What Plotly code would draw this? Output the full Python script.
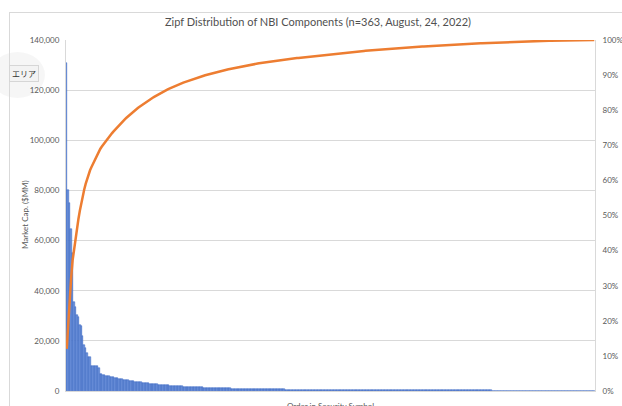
import plotly.graph_objects as go

# Market capitalisation ($MM) of the NBI components, largest first
market_cap = [
    131000, 80000, 75000, 64600, 55000, 35600, 33500, 30300, 29500, 26300,
    26000, 21900, 18400, 17200, 15300, 13700, 13500, 10100, 10100, 10050,
    10000, 10000, 9200, 6900, 6700,
    6500, 6300, 6100, 5900, 5800, 5700, 5500, 5400, 5300, 5150,
    5000, 4900, 4800, 4700, 4550, 4450, 4300, 4200, 4100, 4000,
    3900, 3800, 3720, 3650, 3560, 3480, 3400, 3320, 3250, 3180,
    3100, 3030, 2960, 2890, 2830, 2770, 2700, 2640, 2580, 2520,
    2470, 2410, 2360, 2300, 2250, 2200, 2150, 2100, 2060, 2010,
    1960, 1920, 1880, 1850, 1810, 1780, 1740, 1710, 1680, 1650,
    1620, 1590, 1560, 1530, 1500, 1480, 1450, 1420, 1400, 1370,
    1350, 1320, 1300, 1280,
    1250, 1230, 1210, 1190, 1170, 1150, 1130, 1110, 1090, 1070,
    1060, 1040, 1020, 1010, 995, 980, 965, 950, 940, 925,
    915, 905, 895, 885, 875, 865, 855, 845, 835, 825,
    815, 805, 800,
    700, 695, 690, 684, 678, 672, 666, 660, 654, 648,
    642, 636, 630, 625, 620, 615, 610, 605, 600, 595,
    590, 585, 580, 575, 570, 566, 562, 558, 554, 550,
    546, 542, 538, 534, 530, 526, 522, 518, 514, 510,
    507, 504, 501, 498, 495, 492, 489, 486, 483, 480,
    477,
    474, 471, 468, 465, 462, 459, 456, 453, 450, 447,
    444, 441, 438, 435, 432, 429, 426, 423, 420, 417,
    414, 411, 408, 405, 402, 399, 396, 393, 390,
    386, 383, 380, 377, 374, 371, 368, 365, 362, 359,
    356, 353, 350, 347, 344, 341, 338, 335, 332, 330,
    328, 326, 324, 322, 320, 318, 316, 314,
    311, 308, 305, 302, 299, 296, 293, 290, 287, 284,
    281, 278, 275, 272, 269, 267, 265, 263, 261, 259,
    257, 255, 253, 251, 249, 247, 245, 244, 243, 242,
    241, 240, 239, 238, 237, 236, 235, 235, 234, 234,
    234,
    233, 230, 227, 224, 221, 218, 215, 212, 209, 206,
    203, 200, 198, 196, 194, 192, 190, 188, 186, 184,
    182, 180, 178, 176, 174, 172, 170, 168, 166, 164,
    162, 160, 158, 156, 154, 152, 150, 148, 146, 144,
    142, 140, 138, 136, 134,
    131, 128, 125, 122, 119, 116, 113, 110, 107, 104,
    101, 98, 95, 92, 89, 86, 83, 80, 77, 74,
    71, 68, 65, 62, 59, 56, 53, 50, 48, 46,
    44, 42, 40, 38, 36, 34, 32,
]

# Order (rank) of each security
rank = list(range(1, len(market_cap) + 1))

# Cumulative share of total market cap
total = sum(market_cap)
cumulative_share = []
running = 0
for v in market_cap:
    running += v
    cumulative_share.append(running / total)

left_ticks = [0, 20000, 40000, 60000, 80000, 100000, 120000, 140000]
right_ticks = [0, 0.1, 0.2, 0.3, 0.4, 0.5, 0.6, 0.7, 0.8, 0.9, 1.0]

TITLE = "Zipf Distribution of NBI Components (n=363, August, 24, 2022)"
FONT = "Lato, 'Open Sans', sans-serif"
TICK_COLOR = "#595959"
GRID_COLOR = "#d9d9d9"

W, H = 622, 406
L, R, T, B = 66, 27, 40, 15
PW, PH = W - L - R, H - T - B


def px_x(x):
    return (x - L) / PW


def px_y(y):
    return (H - B - y) / PH


fig = go.Figure()

fig.add_trace(go.Bar(
    x=rank, y=market_cap,
    marker=dict(color="#6b90da", line=dict(color="#3a67c2", width=0.5)),
    name="Market Cap.",
    yaxis="y",
))

fig.add_trace(go.Scatter(
    x=rank, y=cumulative_share,
    mode="lines",
    line=dict(color="#ED7D31", width=2.5),
    name="Cumulative",
    yaxis="y2",
))

fig.update_layout(
    width=W, height=H,
    margin=dict(l=L, r=R, t=T, b=B, autoexpand=False),
    paper_bgcolor="white",
    plot_bgcolor="white",
    showlegend=False,
    bargap=0.0,
    font=dict(family=FONT, color=TICK_COLOR, size=8),
    title=dict(
        text=TITLE,
        x=px_x(318), xref="paper", xanchor="center",
        y=1 - 22 / H, yanchor="middle",
        font=dict(family=FONT, size=11, color="#505050"),
    ),
    xaxis=dict(
        range=[0.5, len(market_cap) + 0.5],
        showticklabels=False,
        ticks="",
        showgrid=False,
        zeroline=False,
        automargin=False,
        showline=True, linecolor=GRID_COLOR, linewidth=1,
    ),
    yaxis=dict(
        range=[0, 140000],
        tickvals=left_ticks,
        tickformat=",",
        gridcolor=GRID_COLOR, gridwidth=1,
        zeroline=False,
        automargin=False,
        showline=True, linecolor=GRID_COLOR, linewidth=1,
        ticks="", ticklabelstandoff=4,
        tickfont=dict(size=8, color=TICK_COLOR),
    ),
    yaxis2=dict(
        range=[0, 1],
        tickvals=right_ticks,
        tickformat=".0%",
        overlaying="y", side="right",
        showgrid=False, zeroline=False,
        automargin=False,
        showline=True, linecolor=GRID_COLOR, linewidth=1,
        ticks="", ticklabelstandoff=5,
        tickfont=dict(size=8, color=TICK_COLOR),
    ),
)

# Axis titles
fig.add_annotation(
    text="Market Cap. ($MM)", textangle=-90,
    x=px_x(25), y=px_y(215), xref="paper", yref="paper",
    xanchor="center", yanchor="middle",
    showarrow=False, font=dict(size=8, color=TICK_COLOR),
)
fig.add_annotation(
    text="Order in Security Symbol",
    x=px_x(330), y=px_y(399), xref="paper", yref="paper",
    xanchor="center", yanchor="top", showarrow=False,
    font=dict(size=8, color=TICK_COLOR),
)

# Chart-area frame
fig.add_shape(type="line", xref="paper", yref="paper",
              x0=px_x(9.5), x1=px_x(9.5), y0=px_y(12), y1=px_y(H + 5),
              line=dict(color=GRID_COLOR, width=1))
fig.add_shape(type="line", xref="paper", yref="paper",
              x0=px_x(9.5), x1=px_x(W + 5), y0=px_y(12.5), y1=px_y(12.5),
              line=dict(color=GRID_COLOR, width=1))

# Hover tip for the chart area
fig.add_shape(type="circle", xref="paper", yref="paper",
              x0=px_x(-10), x1=px_x(45), y0=px_y(52), y1=px_y(98),
              fillcolor="rgba(0,0,0,0.035)", line=dict(width=0), layer="below")
fig.add_annotation(
    text="エリア",
    x=px_x(9), y=px_y(74), xref="paper", yref="paper",
    xanchor="left", yanchor="middle", showarrow=False,
    font=dict(family="Noto Sans CJK JP", size=8, color="#333333"),
    bgcolor="#f3f3f3", bordercolor="#d6d6d6", borderwidth=1, borderpad=2,
)

fig.write_html("out.html")
